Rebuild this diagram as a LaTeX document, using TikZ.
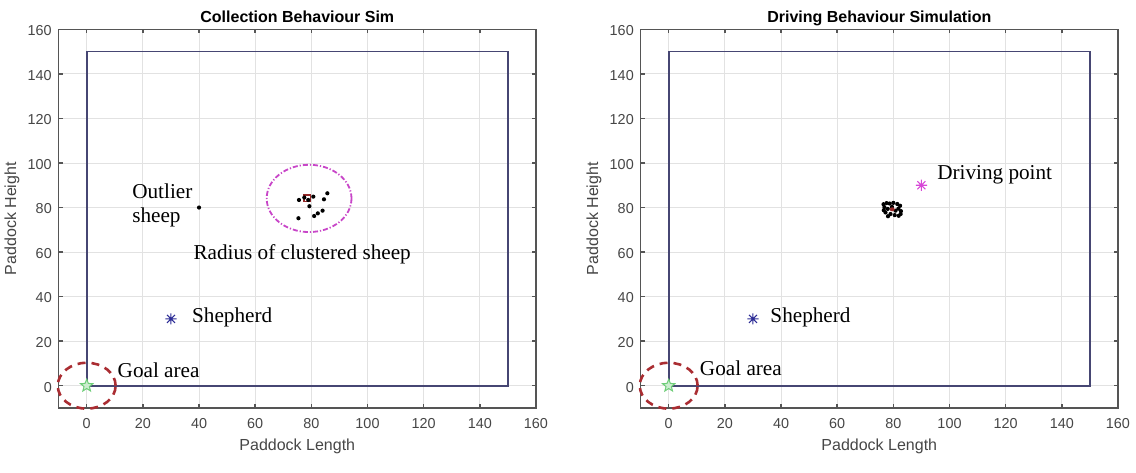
\documentclass[tikz,border=0pt]{standalone}
\usepackage{fontspec}
\setmainfont{Liberation Serif}
\newfontfamily\axfont{Liberation Sans}
\usetikzlibrary{shapes.geometric}

\definecolor{paddock}{RGB}{70,70,115}
\definecolor{axisgray}{RGB}{85,85,85}
\definecolor{gridgray}{RGB}{226,226,226}
\definecolor{ticklbl}{RGB}{70,70,70}
\definecolor{goalred}{RGB}{170,45,50}
\definecolor{radmag}{RGB}{200,70,200}
\definecolor{herdblue}{RGB}{45,45,150}
\definecolor{drivemag}{RGB}{215,70,215}
\definecolor{starg}{RGB}{110,205,120}
\definecolor{sheepred}{RGB}{150,40,40}

\tikzset{
  herder/.pic={
    \draw[line width=0.55pt] (-2.8pt,0) -- (2.8pt,0) (0,-2.8pt) -- (0,2.8pt)
      (-2pt,-2pt) -- (2pt,2pt) (-2pt,2pt) -- (2pt,-2pt);
  }
}

\begin{document}
\begin{tikzpicture}[x=0.5pt,y=-0.5pt,
  gridline/.style={gridgray,line width=0.5pt},
  axisbox/.style={axisgray,line width=0.75pt},
  paddockline/.style={paddock,line width=0.8pt},
  ticklabel/.style={font=\axfont\fontsize{7.2}{8}\selectfont,text=ticklbl,inner sep=0pt},
  axlabel/.style={font=\axfont\fontsize{8}{9}\selectfont,text=ticklbl,inner sep=0pt},
  plottitle/.style={font=\axfont\bfseries\fontsize{8}{9}\selectfont,inner sep=0pt,anchor=base},
  note/.style={font=\fontsize{10.6}{12}\selectfont,inner sep=0pt,anchor=base west},
  goalring/.style={goalred,line width=1.3pt,dash pattern=on 4pt off 3pt},
  clusterring/.style={radmag,line width=0.9pt,dash pattern=on 2.5pt off 1pt on 0.6pt off 1pt},
  sheep/.style={circle,fill=black,inner sep=0pt,minimum size=2.1pt},
  goalstar/.style={star,star points=5,star point ratio=2.3,draw=starg,fill=starg!35,inner sep=0pt,minimum size=6.5pt,line width=0.5pt}
]
\useasboundingbox (0,0) rectangle (1136,472);

% left plot: collection
\begin{scope}[shift={(86.7,385.7)},x=1.404pt,y=1.1135pt]
\foreach \g in {0,20,...,140} {
  \draw[gridline] (\g,-10) -- (\g,160);
  \draw[gridline] (-10,\g) -- (160,\g);
}
\foreach \g in {0,20,...,140} {
  \draw[axisbox] (\g,-10) -- ++(0,1.8);
  \draw[axisbox] (\g,160) -- ++(0,-1.8);
  \draw[axisbox] (-10,\g) -- ++(1.4,0);
  \draw[axisbox] (160,\g) -- ++(-1.4,0);
}
\draw[axisbox] (-10,-10) rectangle (160,160);
\foreach \g in {0,20,...,160} {
  \node[ticklabel] (xtL\g) at (\g,-17.2) {\g};
  \node[ticklabel,anchor=east] (ytL\g) at (-12.3,\g-0.6) {\g};
}
\node[plottitle] (titleL) at (75,163) {Collection Behaviour Sim};
\node[axlabel,anchor=base] (xlabL) at (75,-29.3) {Paddock Length};
\node[axlabel,rotate=90] (ylabL) at (-26.6,75) {Paddock Height};
\draw[paddockline] (0,0) rectangle (150,150);
\draw[goalring] (0,0) circle [radius=10.3];
\node[goalstar] (goalL) at (0,0) {};
\pic[herdblue] at (30,30) {herder};
\node[note] (shepL) at (37.4,28.3) {Shepherd};
\node[note] (goaltxtL) at (10.9,3.9) {Goal area};
% sheep
\node[sheep] (outlier) at (40,80) {};
\node[note,align=left,anchor=north west] (outtxt) at (16.1,91) {Outlier\\sheep};
\draw[sheepred,line width=0.6pt] (77.4,82.6) rectangle (79.8,85.6);
\foreach \p/\q in {75.6/83.4,77.5/84.5,78.9/83.4,80.7/84.9,85.7/86.4,84.5/83.7,84.0/78.6,82.3/77.4,81.0/76.2,75.4/75.2,79.3/80.6}
  \node[sheep] at (\p,\q) {};
\draw[clusterring] (79.2,84.1) circle [radius=15.1];
\node[note] (radtxt) at (37.9,56.8) {Radius of clustered sheep};
\end{scope}

% right plot: driving
\begin{scope}[shift={(668.7,385.7)},x=1.404pt,y=1.1135pt]
\foreach \g in {0,20,...,140} {
  \draw[gridline] (\g,-10) -- (\g,160);
  \draw[gridline] (-10,\g) -- (160,\g);
}
\foreach \g in {0,20,...,140} {
  \draw[axisbox] (\g,-10) -- ++(0,1.8);
  \draw[axisbox] (\g,160) -- ++(0,-1.8);
  \draw[axisbox] (-10,\g) -- ++(1.4,0);
  \draw[axisbox] (160,\g) -- ++(-1.4,0);
}
\draw[axisbox] (-10,-10) rectangle (160,160);
\foreach \g in {0,20,...,160} {
  \node[ticklabel] (xtR\g) at (\g,-17.2) {\g};
  \node[ticklabel,anchor=east] (ytR\g) at (-12.3,\g-0.6) {\g};
}
\node[plottitle] (titleR) at (75,163) {Driving Behaviour Simulation};
\node[axlabel,anchor=base] (xlabR) at (75,-29.3) {Paddock Length};
\node[axlabel,rotate=90] (ylabR) at (-26.6,75) {Paddock Height};
\draw[paddockline] (0,0) rectangle (150,150);
\draw[goalring] (0,0) circle [radius=10.3];
\node[goalstar] (goalR) at (0,0) {};
\pic[herdblue] at (30,30) {herder};
\node[note] (shepR) at (36.1,28.2) {Shepherd};
\node[note] (goaltxtR) at (11,4.8) {Goal area};
\pic[drivemag] at (90,90) {herder};
\node[note] (drivetxt) at (95.5,92.4) {Driving point};
% herded flock
\foreach \p/\q in {76.5/81.5,77.6/82,78.7/81.8,80/82.1,81.4/81.6,82.4/80.8,76.8/80.2,78/79.4,81.8/79.5,82.7/78.4,77.2/77.8,79/77.1,80.5/76.6,81.9/76.3,78.1/76.1,80.8/78.6,79.5/80.3,76.6/78.8,82.6/77.1}
  \node[sheep] at (\p,\q) {};
\fill[sheepred] (79.6,79.2) circle [radius=0.9];
\end{scope}
\end{tikzpicture}
\end{document}
